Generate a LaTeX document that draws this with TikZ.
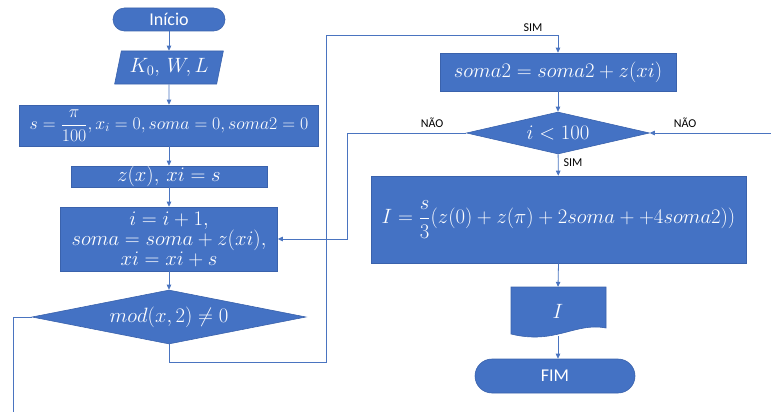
\RequirePackage{fix-cm}
\documentclass[tikz,border=0pt]{standalone}
\usepackage{fontspec}
\newfontfamily\carlito{Carlito}
\usetikzlibrary{shapes.geometric,arrows.meta}
\definecolor{fillblue}{HTML}{4472C4}
\definecolor{edgeblue}{HTML}{3A62AC}
\definecolor{lineblue}{HTML}{4A74C0}
\newcommand\mathsz{\fontsize{20.7}{23}\selectfont}
\newcommand\mathsmall{\fontsize{17.8}{20}\selectfont}
\tikzset{
  blockbox/.style={rectangle, fill=fillblue, draw=edgeblue, line width=0.6pt, text=white, inner sep=0pt, font=\mathsz, align=center},
  termbox/.style={blockbox, font=\carlito\fontsize{18}{20}\selectfont},
  decbox/.style={diamond, aspect=6, fill=fillblue, draw=edgeblue, line width=0.6pt, text=white, inner sep=0pt, font=\mathsz},
  inbox/.style={trapezium, trapezium left angle=73, trapezium right angle=107, trapezium stretches=true, fill=fillblue, draw=edgeblue, line width=0.6pt, text=white, inner sep=0pt, font=\mathsz},
  conn/.style={draw=lineblue, line width=0.8pt, -{Triangle[length=5pt,width=4.5pt]}},
  plain/.style={draw=lineblue, line width=0.8pt},
  tag/.style={font=\carlito\fontsize{12}{14}\selectfont, text=black, inner sep=0pt}
}
\begin{document}
\begin{tikzpicture}[x=1pt,y=-1pt]
\useasboundingbox (0,0) rectangle (771,412);
% left column
\node[termbox, minimum width=112, minimum height=23, rounded corners=11.5pt] (start) at (169,19.5) {Início};
\node[inbox, minimum width=109, minimum height=33] (inp) at (169,67.5) {$K_0,\,W,L$};
\node[blockbox, font=\mathsmall, minimum width=299, minimum height=41] (init) at (169,125.5) {$\displaystyle s=\frac{\pi}{100},x_i=0,soma=0,soma2=0$};
\node[blockbox, minimum width=196, minimum height=21] (zx) at (169,176.5) {$z(x),\,xi=s$};
\node[blockbox, minimum width=217, minimum height=64] (loop) at (169,239) {$i=i+1,$\\[-3pt]$soma=soma+z(xi),$\\[-3pt]$xi=xi+s$};
\node[decbox, minimum width=274, minimum height=54] (dmod) at (169,317) {$mod(x,2)\neq0$};
% right column
\node[blockbox, minimum width=236, minimum height=38] (s2) at (558,72) {$soma2=soma2+z(xi)$};
\node[decbox, minimum width=183, minimum height=42] (dlt) at (558,133) {$i<100$};
\node[blockbox, minimum width=375, minimum height=87] (big) at (558.5,219.5) {$\displaystyle I=\frac{s}{3}(z(0)+z(\pi)+2soma++4soma2))$};
\fill[fillblue, draw=edgeblue, line width=0.6pt] (511,287) -- (606,287) -- (606,328) .. controls (575,322) and (555,345) .. (511,334) -- cycle;
\node[inner sep=0pt, minimum width=95, minimum height=49, text=white, font=\mathsz] (out) at (558,311.5) {$I$};
\node[termbox, minimum width=160, minimum height=34, rounded corners=17pt] (fim) at (555,376) {FIM};
% free ends and bends
\coordinate (ra) at (326,362);
\coordinate (rb) at (326,35);
\coordinate (lj) at (347,239);
\coordinate (rin) at (771,133);
\coordinate (lout) at (13,412);
% connectors
\draw[conn] (start) -- (inp);
\draw[conn] (inp) -- (init);
\draw[conn] (init) -- (zx);
\draw[conn] (zx) -- (loop);
\draw[conn] (loop) -- (dmod);
\draw[conn] (dmod.south) |- (ra) -- (rb) -| (s2.north);
\draw[plain] (dmod.west) -| (lout);
\draw[conn] (s2) -- (dlt);
\draw[conn] (dlt) -- (big);
\draw[conn] (dlt.west) -| (lj) -- (loop.east);
\draw[conn] (rin) -- (dlt.east);
\draw[conn] (big.south) -- (out.north);
\draw[conn] (out.south) -- (out.south |- fim.north);
% labels
\node[tag] (l1) at (533,28) {SIM};
\node[tag] (l2) at (573,163) {SIM};
\node[tag] (l3) at (432,123) {NÃO};
\node[tag] (l4) at (685,123) {NÃO};
\end{tikzpicture}
\end{document}
